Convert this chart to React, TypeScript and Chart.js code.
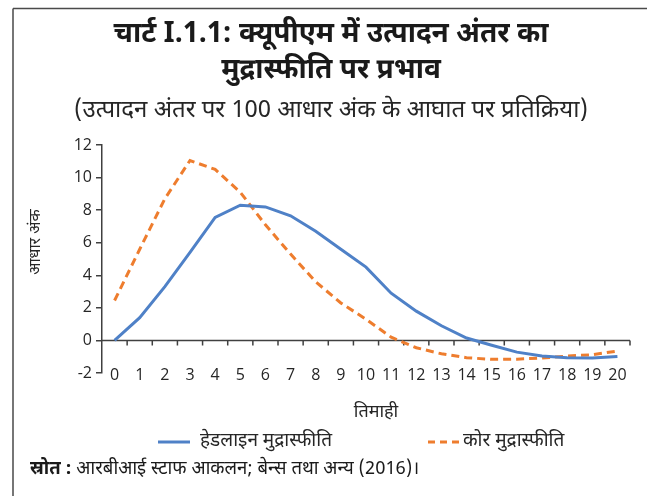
import React, { useEffect, useRef } from 'react';
import { Chart, registerables } from 'chart.js';

Chart.register(...registerables);

const quarters = ['0', '1', '2', '3', '4', '5', '6', '7', '8', '9', '10', '11', '12', '13', '14', '15', '16', '17', '18', '19', '20'];
const headlineInflation = [0, 1.4, 3.3, 5.4, 7.55, 8.3, 8.2, 7.65, 6.7, 5.6, 4.5, 2.9, 1.8, 0.9, 0.15, -0.3, -0.72, -0.96, -1.06, -1.08, -0.98];
const coreInflation = [2.45, 5.6, 8.7, 11.05, 10.5, 9.1, 7.1, 5.3, 3.6, 2.3, 1.3, 0.2, -0.45, -0.82, -1.06, -1.16, -1.15, -1.08, -0.96, -0.88, -0.65];

const titleLines = ['चार्ट I.1.1: क्यूपीएम में उत्पादन अंतर का', 'मुद्रास्फीति पर प्रभाव'];
const subtitleText = '(उत्पादन अंतर पर 100 आधार अंक के आघात पर प्रतिक्रिया)';
const yAxisTitle = 'आधार अंक';
const xAxisTitle = 'तिमाही';
const seriesNames = ['हेडलाइन मुद्रास्फीति', 'कोर मुद्रास्फीति'];
const sourceLabel = 'स्रोत :';
const sourceText = ' आरबीआई स्टाफ आकलन; बेन्स तथा अन्य (2016)।';

const BLUE = '#4F81C7';
const ORANGE = '#EE7D2E';
const AXIS = '#404040';
const HINDI = '"Noto Sans Devanagari", "Lohit Devanagari", "Noto Sans", sans-serif';
const NUM = '"Open Sans", "Noto Sans", sans-serif';

const decor = {
  id: 'decor',
  beforeDraw(chart: any) {
    const { ctx, width, height } = chart;
    ctx.save();
    ctx.fillStyle = '#ffffff';
    ctx.fillRect(0, 0, width, height);
    ctx.strokeStyle = '#4a4a4a';
    ctx.lineWidth = 1.5;
    ctx.beginPath();
    ctx.moveTo(13, 8.5);
    ctx.lineTo(width, 8.5);
    ctx.moveTo(13, 8.5);
    ctx.lineTo(13, height);
    ctx.stroke();
    ctx.restore();
  },
  beforeDatasetsDraw(chart: any) {
    const { ctx, chartArea, scales } = chart;
    const y = scales.y;
    const y0 = y.getPixelForValue(0);
    const n = quarters.length;
    const w = (chartArea.right - chartArea.left) / n;
    ctx.save();
    ctx.strokeStyle = AXIS;
    ctx.lineWidth = 1.5;
    ctx.beginPath();
    ctx.moveTo(chartArea.left, y0);
    ctx.lineTo(chartArea.right, y0);
    for (let k = 1; k <= n; k++) {
      const px = chartArea.left + k * w;
      ctx.moveTo(px, y0);
      ctx.lineTo(px, y0 + 5);
    }
    ctx.stroke();
    ctx.restore();
  },
  afterDraw(chart: any) {
    const { ctx, scales } = chart;
    ctx.save();
    ctx.fillStyle = '#1a1a1a';
    ctx.textAlign = 'center';
    ctx.textBaseline = 'middle';
    ctx.font = `bold 28px ${HINDI}`;
    ctx.fillText(titleLines[0], 331, 37);
    ctx.fillText(titleLines[1], 331, 73);
    ctx.font = `24px ${HINDI}`;
    ctx.fillStyle = '#262626';
    ctx.fillText(subtitleText, 331, 113);

    // x tick labels, on the level of the y minimum
    const yBottom = scales.y.getPixelForValue(scales.y.min);
    ctx.font = `16px ${NUM}`;
    quarters.forEach((q, i) => {
      ctx.fillText(q, scales.x.getPixelForValue(i), yBottom + 2);
    });

    // x axis title
    ctx.font = `18px ${HINDI}`;
    ctx.fillText(xAxisTitle, 376, 414);

    // y axis title
    ctx.save();
    ctx.translate(37, 242);
    ctx.rotate(-Math.PI / 2);
    ctx.font = `16px ${HINDI}`;
    ctx.fillText(yAxisTitle, 0, 0);
    ctx.restore();

    // legend
    const ly = 442;
    ctx.lineWidth = 3;
    ctx.strokeStyle = BLUE;
    ctx.beginPath();
    ctx.moveTo(158, ly);
    ctx.lineTo(190, ly);
    ctx.stroke();
    ctx.strokeStyle = ORANGE;
    ctx.setLineDash([7, 5]);
    ctx.beginPath();
    ctx.moveTo(428, ly);
    ctx.lineTo(461, ly);
    ctx.stroke();
    ctx.setLineDash([]);
    ctx.textAlign = 'left';
    ctx.font = `19px ${HINDI}`;
    ctx.fillStyle = '#262626';
    ctx.fillText(seriesNames[0], 200, ly);
    ctx.fillText(seriesNames[1], 463, ly);

    // source
    ctx.font = `bold 18.5px ${HINDI}`;
    ctx.fillStyle = '#1a1a1a';
    ctx.fillText(sourceLabel, 30, 471);
    const wLabel = ctx.measureText(sourceLabel).width;
    ctx.font = `18.5px ${HINDI}`;
    ctx.fillText(sourceText, 30 + wLabel, 471);
    ctx.restore();
  },
};

export default function App() {
  const ref = useRef<HTMLCanvasElement | null>(null);
  useEffect(() => {
    if (!ref.current) return;
    const chart = new Chart(ref.current, {
      type: 'line',
      data: {
        labels: quarters,
        datasets: [
          {
            label: seriesNames[0],
            data: headlineInflation,
            borderColor: BLUE,
            backgroundColor: BLUE,
            borderWidth: 3,
            pointRadius: 0,
            tension: 0,
            fill: false,
          },
          {
            label: seriesNames[1],
            data: coreInflation,
            borderColor: ORANGE,
            backgroundColor: ORANGE,
            borderWidth: 3,
            borderDash: [8, 5],
            pointRadius: 0,
            tension: 0,
            fill: false,
          },
        ],
      },
      options: {
        responsive: false,
        animation: false,
        events: [],
        layout: { padding: { left: 22, right: 17, top: 145, bottom: 72 } },
        plugins: {
          legend: { display: false },
          title: { display: false },
          tooltip: { enabled: false },
        },
        scales: {
          x: {
            type: 'category',
            offset: true,
            grid: { display: false },
            border: { display: false },
            ticks: { display: false },
            afterFit: (s: any) => {
              s.height = 51;
            },
          },
          y: {
            min: -2,
            max: 12,
            ticks: {
              stepSize: 2,
              padding: 4,
              color: '#262626',
              font: { family: NUM, size: 16 },
            },
            grid: {
              display: true,
              drawOnChartArea: false,
              drawTicks: true,
              tickLength: 6,
              color: AXIS,
              lineWidth: 1.5,
            },
            border: { display: true, color: AXIS, width: 1.5 },
            afterFit: (s: any) => {
              s.width = 80;
            },
          },
        },
      },
      plugins: [decor],
    });
    return () => chart.destroy();
  }, []);
  return (
    <div style={{ position: 'fixed', left: 0, top: 0, width: 647, height: 496, background: '#fff' }}>
      <canvas ref={ref} width={647} height={496} style={{ display: 'block' }} />
    </div>
  );
}
